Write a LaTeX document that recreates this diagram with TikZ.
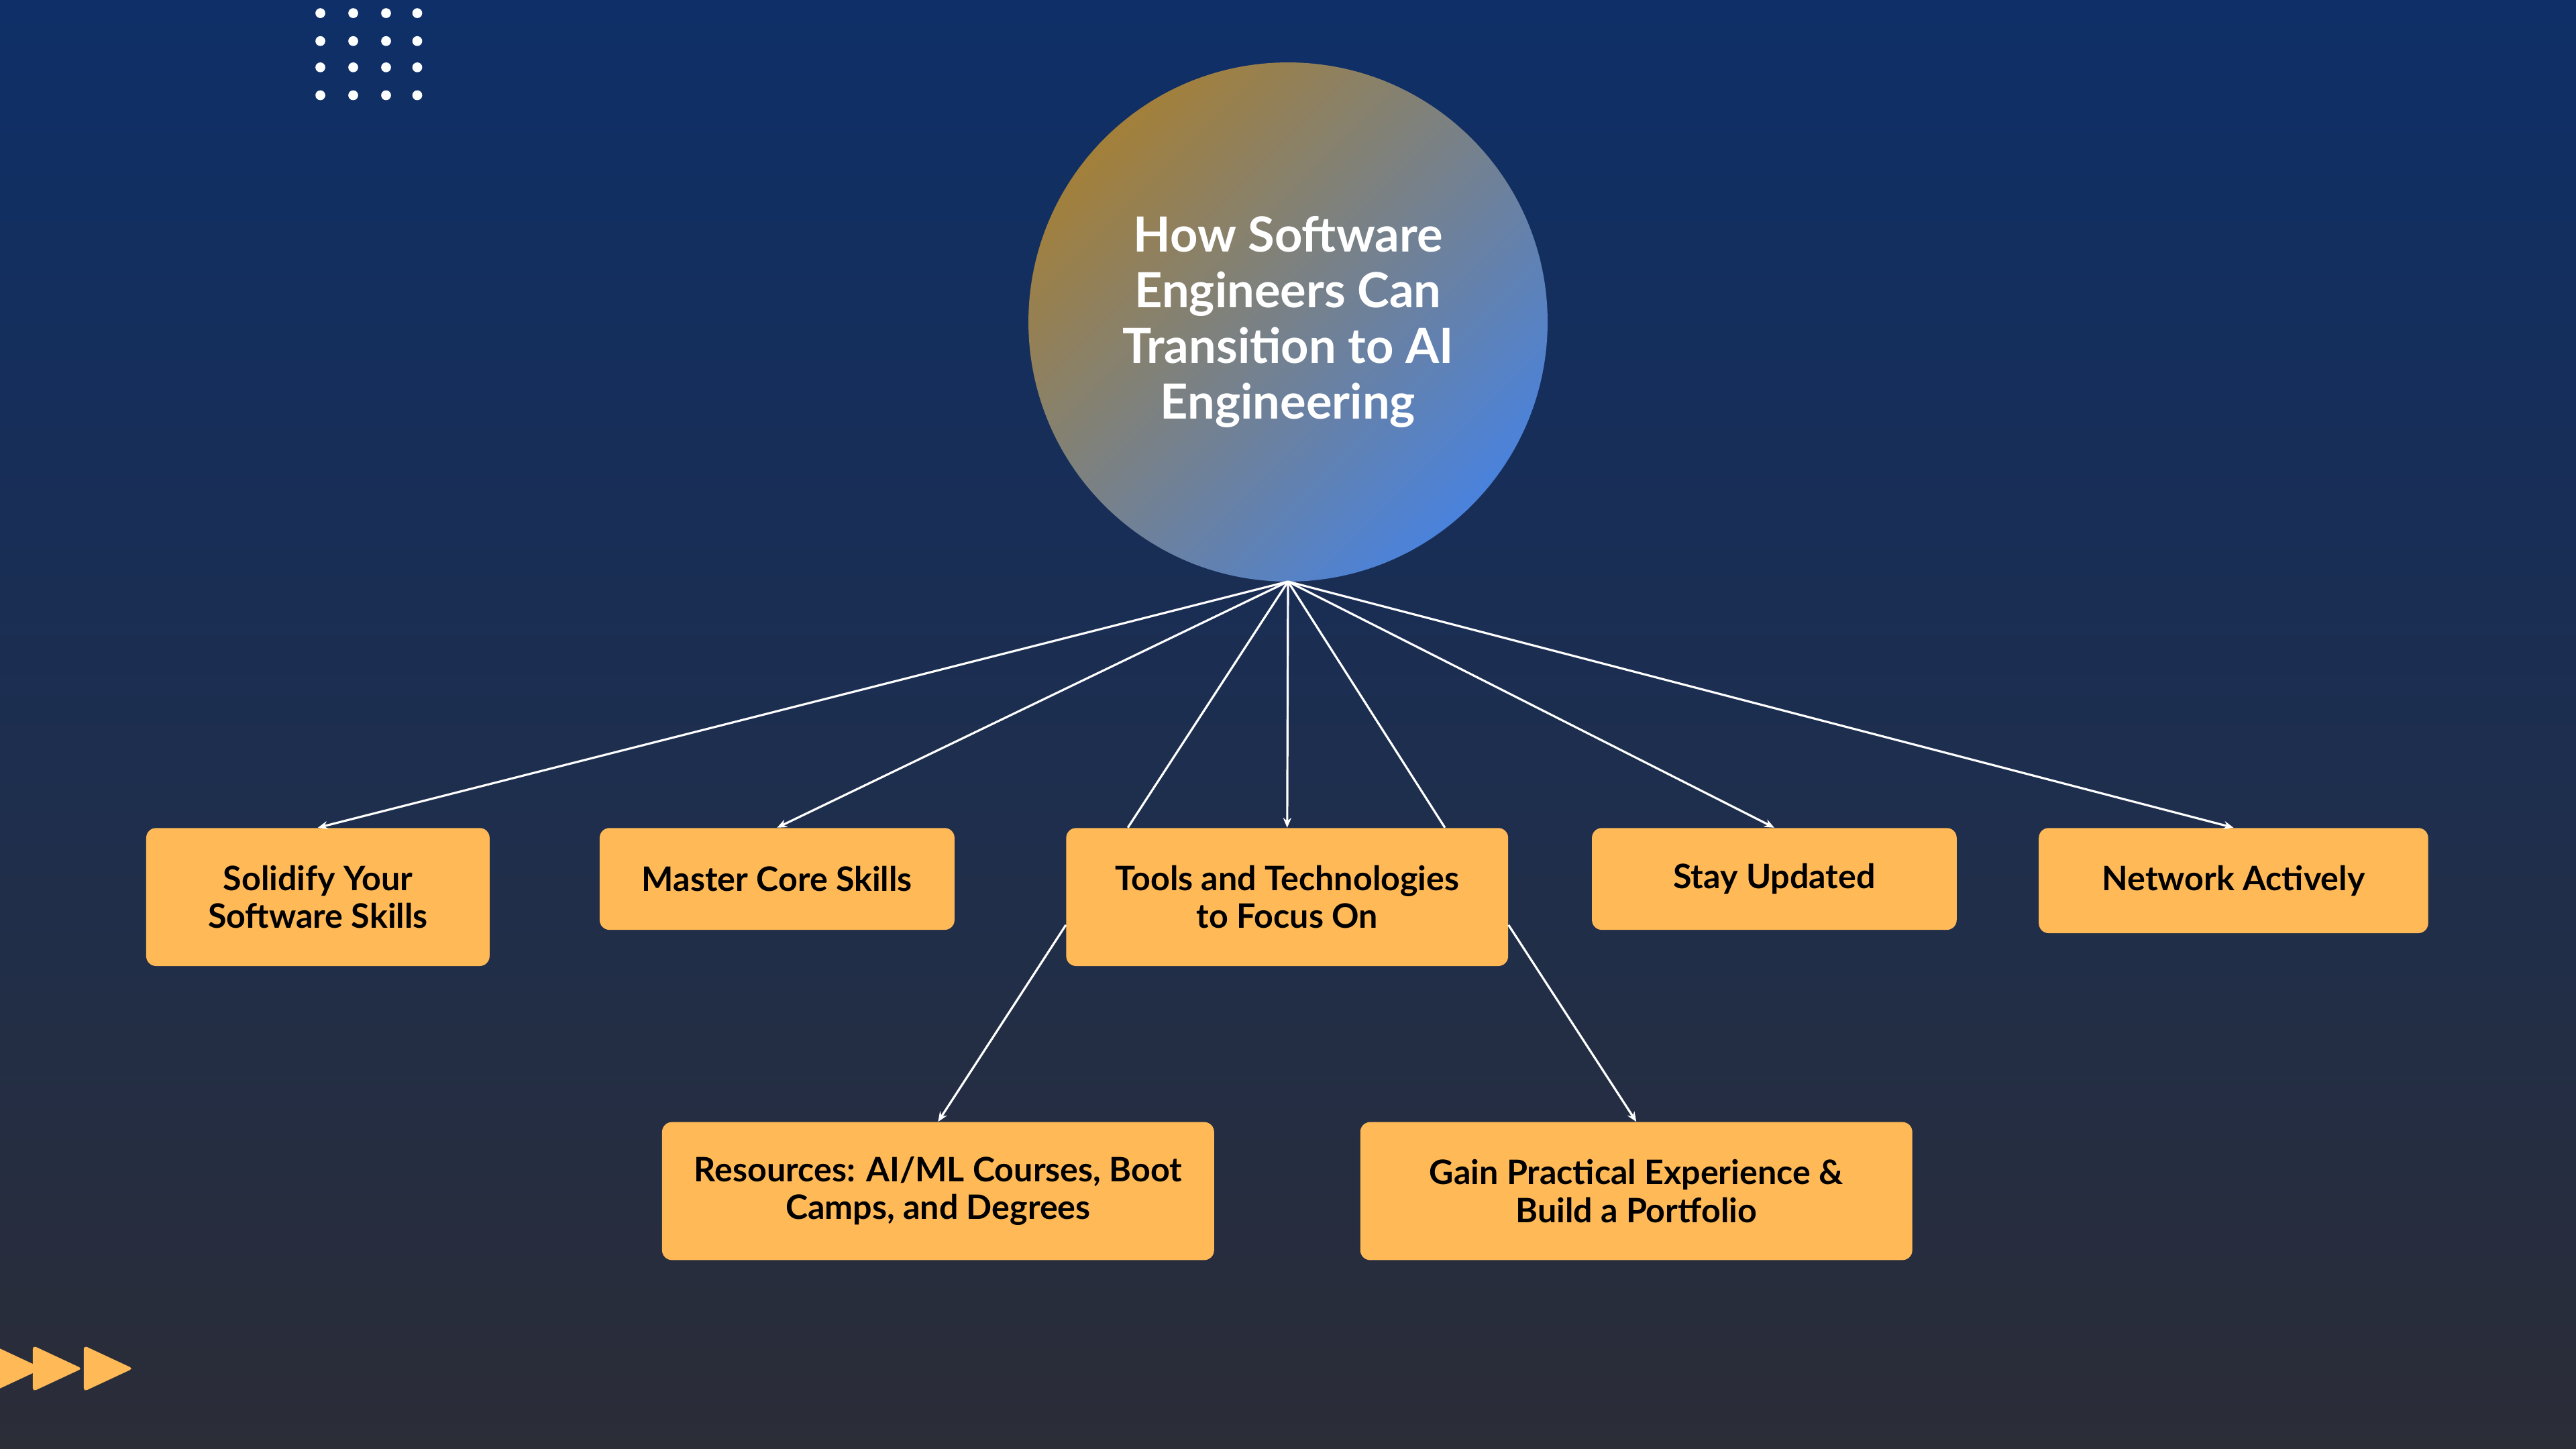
\documentclass[tikz,border=0pt]{standalone}
\usepackage{fontspec}
\setmainfont{Lato}
\usetikzlibrary{arrows.meta}
\definecolor{bgtop}{HTML}{0E2F68}
\definecolor{bgbot}{HTML}{2B2D37}
\definecolor{gold}{HTML}{A3803A}
\definecolor{sky}{HTML}{4A82DC}
\definecolor{boxc}{HTML}{FFB957}
\tikzset{
 card/.style={draw=none,fill=boxc,rounded corners=6pt,align=center,font=\fontsize{20.5}{23}\selectfont\bfseries,text=black},
 link/.style={draw=white,line width=1.3pt,-{Stealth[length=6pt,width=5pt]}},
 plain/.style={draw=white,line width=1.3pt}
}
\begin{document}
\begin{tikzpicture}[x=1pt,y=-1pt]
\shade[top color=bgtop,bottom color=bgbot] (0,0) rectangle (1568,882);
\useasboundingbox (0,0) rectangle (1568,882);
\foreach \x in {195,215,235,254}\foreach \y in {8,25,41,58}\fill[white] (\x,\y) circle (3);
\foreach \x in {0,24,55}\fill[boxc,rounded corners=2pt] (\x-4,819) -- (\x+26,833) -- (\x-4,847) -- cycle;
\shade[shading=axis,left color=gold,right color=sky,shading angle=45] (784,196) circle (158);
\node[circle,minimum size=316pt] (hub) at (784,196) {};
\node[align=center,text=white,font=\fontsize{29.5}{34}\selectfont\bfseries] at (784,196) {How Software\\Engineers Can\\Transition to AI\\Engineering};
\coordinate (h) at (784,354);
\node[card,minimum width=209pt,minimum height=84pt] (s1) at (193.5,546) {Solidify Your\\Software Skills};
\node[card,minimum width=216pt,minimum height=62pt] (s2) at (473,535) {Master Core Skills};
\node[card,minimum width=269pt,minimum height=84pt] (s3) at (783.5,546) {Tools and Technologies\\to Focus On};
\node[card,minimum width=222pt,minimum height=62pt] (s4) at (1080,535) {Stay Updated};
\node[card,minimum width=237pt,minimum height=64pt] (s5) at (1359.5,536) {Network Actively};
\node[card,minimum width=336pt,minimum height=84pt] (r) at (571,725) {Resources: AI/ML Courses, Boot\\Camps, and Degrees};
\node[card,minimum width=336pt,minimum height=84pt] (g) at (996,725) {Gain Practical Experience \&\\Build a Portfolio};
\draw[link] (h) -- (s1.north);
\draw[link] (h) -- (s2.north);
\draw[link] (h) -- (s3.north);
\draw[link] (h) -- (s4.north);
\draw[link] (h) -- (s5.north);
\draw[plain] (h) -- ([xshift=-97pt]s3.north);
\draw[plain] (h) -- ([xshift=96pt]s3.north);
\draw[link] ([yshift=-17pt]s3.west) -- (r.north);
\draw[link] ([yshift=-17pt]s3.east) -- (g.north);
\end{tikzpicture}
\end{document}
